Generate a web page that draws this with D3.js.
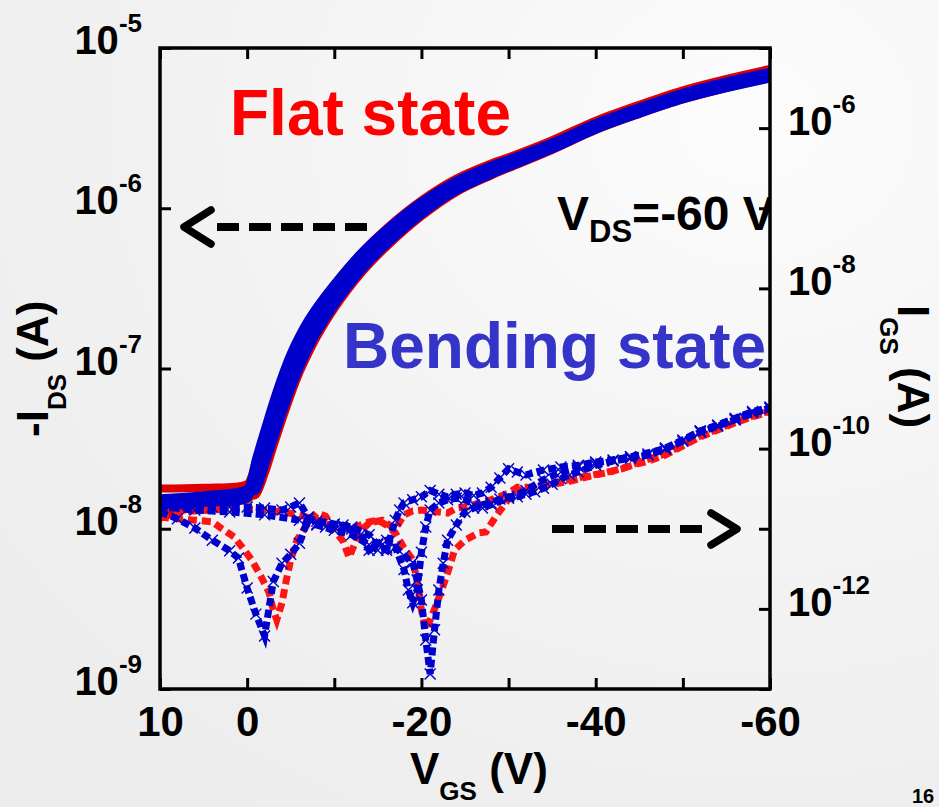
<!DOCTYPE html>
<html><head><meta charset="utf-8">
<script src="https://cdn.jsdelivr.net/npm/d3@7"></script>
<style>body{margin:0;background:#f3f3f3;} svg{display:block;}</style>
</head><body>
<svg id="chart" width="939" height="807"></svg>
<script>
// ---------- DATA ----------
// Transfer curves -I_DS vs V_GS (left axis)
const vgsIds = [10,5,0,-0.5,-1,-2,-3,-4,-5,-6,-7,-8,-10,-13,-16,-20,-24,-28,-30,-35,-40,-45,-50,-55,-60];
const idsFlat1 = [1.78e-8,1.8e-8,1.9e-8,2.12e-8,2.65e-8,4.0e-8,6.0e-8,8.7e-8,1.2e-7,1.57e-7,1.97e-7,2.4e-7,3.35e-7,5.2e-7,7.5e-7,1.12e-6,1.53e-6,1.9e-6,2.08e-6,2.66e-6,3.52e-6,4.43e-6,5.45e-6,6.42e-6,7.4e-6];
const idsFlat2 = [1.17e-8,1.42e-8,1.52e-8,1.6e-8,1.63e-8,2.2e-8,3.25e-8,4.75e-8,6.8e-8,9.4e-8,1.23e-7,1.57e-7,2.36e-7,3.88e-7,5.75e-7,8.9e-7,1.26e-6,1.6e-6,1.78e-6,2.31e-6,3.08e-6,3.88e-6,4.77e-6,5.62e-6,6.5e-6];
const idsBend1 = [1.45e-8,1.51e-8,1.66e-8,1.87e-8,2.16e-8,3.17e-8,4.7e-8,6.8e-8,9.5e-8,1.27e-7,1.62e-7,2.01e-7,2.88e-7,4.57e-7,6.62e-7,1.0e-6,1.38e-6,1.73e-6,1.91e-6,2.45e-6,3.24e-6,4.07e-6,5.01e-6,5.89e-6,6.76e-6];
const idsBend2 = [1.55e-8,1.62e-8,1.78e-8,2.06e-8,2.7e-8,4.12e-8,6.2e-8,9.0e-8,1.24e-7,1.61e-7,2.01e-7,2.43e-7,3.37e-7,5.21e-7,7.41e-7,1.1e-6,1.49e-6,1.85e-6,2.02e-6,2.57e-6,3.4e-6,4.27e-6,5.26e-6,6.18e-6,7.1e-6];
const idsBend3 = [1.36e-8,1.41e-8,1.55e-8,1.7e-8,1.73e-8,2.44e-8,3.56e-8,5.15e-8,7.3e-8,1.0e-7,1.31e-7,1.66e-7,2.46e-7,4.01e-7,5.91e-7,9.1e-7,1.28e-6,1.62e-6,1.8e-6,2.33e-6,3.09e-6,3.88e-6,4.77e-6,5.61e-6,6.44e-6];

// Gate leakage I_GS vs V_GS (right axis)
const igsFlat1V = [10,8,6,4,3,1.5,0.5,-0.5,-1.5,-2.5,-3,-3.4,-4,-4.5,-5,-5.7,-7,-8,-9,-10,-11,-11.7,-12.3,-12.8,-14,-15.5,-17,-18,-19,-20,-22,-23,-24,-25,-26,-28,-30,-31,-33,-35,-37,-39,-41,-43,-45,-48,-50,-52,-54,-56,-58,-60];
const igsFlat1 = [1.4e-11,1.33e-11,1.28e-11,1.22e-11,1.02e-11,7.9e-12,5.75e-12,4.1e-12,2.65e-12,1.62e-12,9.7e-13,7.3e-13,1.19e-12,2.3e-12,4.1e-12,7.2e-12,1.18e-11,1.57e-11,1.44e-11,9.6e-12,7.0e-12,4.4e-12,6.3e-12,8.9e-12,1.18e-11,1.28e-11,9.9e-12,1.49e-11,1.67e-11,1.71e-11,1.62e-11,1.57e-11,1.81e-11,1.87e-11,2.0e-11,2.3e-11,2.8e-11,3.3e-11,3.3e-11,3.7e-11,4.1e-11,4.55e-11,5.0e-11,5.6e-11,6.8e-11,8.6e-11,1.11e-10,1.44e-10,1.76e-10,2.15e-10,2.55e-10,2.95e-10];
const igsFlat2V = [10,8,6,4,2,0,-2,-4,-6,-8,-10,-12,-13,-14,-15,-16,-17,-18,-19,-19.5,-20,-20.5,-21,-21.7,-22.6,-23.2,-23.8,-25,-26.6,-27.4,-28.5,-29.5,-30.7,-33,-35,-37,-39.4,-41.6,-44,-46,-48,-50,-52,-54,-56,-58,-60];
const igsFlat2 = [1.62e-11,1.62e-11,1.67e-11,1.71e-11,1.76e-11,1.76e-11,1.71e-11,1.62e-11,1.49e-11,1.28e-11,1.05e-11,1.02e-11,1.11e-11,1.22e-11,1.28e-11,1.11e-11,8.9e-12,5.75e-12,4.1e-12,2.3e-12,9.7e-13,5.5e-13,7.3e-13,1.12e-12,2.1e-12,3.3e-12,5.4e-12,7.2e-12,8.9e-12,9.1e-12,1.4e-11,2.0e-11,3.0e-11,3.2e-11,3.6e-11,3.9e-11,4.55e-11,5.1e-11,6.1e-11,7.0e-11,8.3e-11,1.08e-10,1.4e-10,1.71e-10,2.1e-10,2.5e-10,2.9e-10];
const igsBend1V = [10,8,6,4,2,1,0,-1,-2,-3,-4,-5,-6,-7,-8,-10,-12,-14,-15,-16,-17,-17.5,-18,-19,-20,-21,-22,-23,-24,-25,-26,-27,-28,-29,-30,-31,-32,-34,-36,-38,-40,-42,-44,-46,-48,-50,-52,-54,-56,-58,-60];
const igsBend1 = [1.62e-11,1.33e-11,1.02e-11,7.2e-12,5.3e-12,4.3e-12,1.82e-12,8.6e-13,4.6e-13,2.2e-12,3.7e-12,4.8e-12,6.6e-12,1.33e-11,1.25e-11,1.15e-11,1.05e-11,8.4e-12,6.3e-12,5.4e-12,1.28e-11,1.71e-11,2.1e-11,2.3e-11,2.5e-11,3.0e-11,2.7e-11,2.5e-11,2.7e-11,2.8e-11,2.6e-11,2.8e-11,3.3e-11,4.3e-11,5.6e-11,5.1e-11,4.7e-11,5.4e-11,5.9e-11,6.2e-11,6.8e-11,7.2e-11,7.9e-11,8.6e-11,1.02e-10,1.28e-10,1.66e-10,1.97e-10,2.4e-10,2.9e-10,3.3e-10];
const igsBend2V = [10,8,6,4,2,0,-2,-4,-5,-6,-7,-8,-9,-10,-11,-12,-13,-14,-15,-16,-17,-18,-19,-19.5,-20,-20.5,-21,-21.5,-22,-22.5,-23,-24,-25,-26,-27,-28,-29,-30,-31,-32,-33,-34,-35,-36,-37,-38,-40,-42,-44,-46,-48,-50,-52,-54,-56,-58,-60];
const igsBend2 = [2.1e-11,2.0e-11,1.9e-11,1.87e-11,1.87e-11,1.87e-11,1.81e-11,1.71e-11,1.87e-11,2.1e-11,1.4e-11,1.15e-11,1.05e-11,1.05e-11,1.11e-11,9.9e-12,8.4e-12,5.4e-12,6.6e-12,7.2e-12,5.9e-12,4.6e-12,3.8e-12,2.3e-12,1.29e-12,4.1e-13,1.54e-13,5.5e-13,1.72e-12,3.7e-12,7.2e-12,1.11e-11,1.62e-11,1.81e-11,2.0e-11,2.1e-11,2.35e-11,2.5e-11,2.5e-11,2.7e-11,2.9e-11,3.2e-11,3.6e-11,4.2e-11,4.7e-11,5.1e-11,6.2e-11,7.0e-11,7.6e-11,8.3e-11,9.9e-11,1.24e-10,1.61e-10,1.91e-10,2.3e-10,2.8e-10,3.2e-10];
const igsBend3V = [10,6,2,-2,-6,-8,-10,-12,-14,-15,-16,-17,-18,-18.5,-19,-19.5,-20,-20.5,-21,-22,-23,-24,-25,-26,-27,-28,-30,-32,-34,-36,-38,-40,-44,-48,-52,-56,-60];
const igsBend3 = [1.9e-11,1.71e-11,1.62e-11,1.49e-11,1.28e-11,1.11e-11,9.6e-12,8.4e-12,6.3e-12,5.4e-12,5.75e-12,5.9e-12,3.1e-12,1.72e-12,1.19e-12,1.72e-12,5.1e-12,1.05e-11,1.71e-11,2.1e-11,2.3e-11,2.4e-11,2.3e-11,2.0e-11,1.81e-11,2.0e-11,2.4e-11,3.0e-11,4.1e-11,5.1e-11,5.9e-11,6.6e-11,7.9e-11,9.9e-11,1.66e-10,2.3e-10,3.2e-10];

// Ticks
const xTickValues = [10,0,-10,-20,-30,-40,-50,-60];
const xTickLabels = [10,0,-20,-40,-60];
const leftTickValues = [1e-9,1e-8,1e-7,1e-6,1e-5];
const rightTickValues = [1e-13,1e-12,1e-11,1e-10,1e-9,1e-8,1e-7,1e-6,1e-5];
const rightTickLabels = [1e-12,1e-10,1e-8,1e-6];

// ---------- CHART ----------
const W = 939, H = 807;
const FONT = "Arial, 'Liberation Sans', Helvetica, sans-serif";
const svg = d3.select("#chart").attr("font-family", FONT);
const defs = svg.append("defs");
const grad = defs.append("radialGradient").attr("id","bg").attr("cx","0.8").attr("cy","0.15").attr("r","1.0");
grad.append("stop").attr("offset","0").attr("stop-color","#fcfcfc");
grad.append("stop").attr("offset","0.6").attr("stop-color","#f2f2f2");
grad.append("stop").attr("offset","1").attr("stop-color","#ededed");
svg.append("rect").attr("width",W).attr("height",H).attr("fill","url(#bg)");

const L = 160, R = 770, T = 48, B = 689;
defs.append("clipPath").attr("id","plotClip").append("rect")
  .attr("x",L).attr("y",T).attr("width",R-L).attr("height",B-T);

const x = d3.scaleLinear().domain([10,-60]).range([L,R]);
const yL = d3.scaleLog().domain([1e-9,1e-5]).range([B,T]);
const yR = d3.scaleLog().domain([1e-13,1e-5]).range([B,T]);

const plot = svg.append("g").attr("clip-path","url(#plotClip)");

// I_DS bands
const lineL = d3.line().x(d=>x(d[0])).y(d=>yL(d[1])).curve(d3.curveCatmullRom.alpha(0.5));
const redIDS = "#e00000", blueIDS = "#0000cc";
[[idsFlat1,redIDS],[idsFlat2,redIDS],[idsBend2,blueIDS],[idsBend3,blueIDS],[idsBend1,blueIDS]].forEach(([arr,c])=>{
  plot.append("path").datum(vgsIds.map((v,i)=>[v,arr[i]]))
    .attr("d",lineL).attr("fill","none").attr("stroke",c)
    .attr("stroke-width",8).attr("stroke-linejoin","round").attr("stroke-linecap","round");
});

// I_GS dashed curves
const lineR = d3.line().x(d=>x(d[0])).y(d=>yR(d[1]));
const redIGS = "#ff1414", blueIGS = "#0000cc";
[[igsFlat1V,igsFlat1],[igsFlat2V,igsFlat2]].forEach(([vv,arr])=>{
  plot.append("path").datum(vv.map((v,i)=>[v,arr[i]]))
    .attr("d",lineR).attr("fill","none").attr("stroke",redIGS)
    .attr("stroke-width",7).attr("stroke-dasharray","9,5");
});
[[igsBend1V,igsBend1],[igsBend2V,igsBend2],[igsBend3V,igsBend3]].forEach(([vv,arr])=>{
  const pts = vv.map((v,i)=>[v,arr[i]]);
  plot.append("path").datum(pts)
    .attr("d",lineR).attr("fill","none").attr("stroke",blueIGS)
    .attr("stroke-width",7).attr("stroke-dasharray","8,4");
  plot.append("g").selectAll("path").data(pts).join("path")
    .attr("transform",d=>`translate(${x(d[0])},${yR(d[1])})`)
    .attr("d","M-5.5,-5.5L5.5,5.5M-5.5,5.5L5.5,-5.5")
    .attr("stroke",blueIGS).attr("stroke-width",1.4).attr("fill","none");
});

// V_DS label (clipped by the frame like the original)
const vds = plot.append("text").attr("x",557).attr("y",230)
  .attr("font-weight","bold").attr("font-size",48).attr("fill","#000");
vds.append("tspan").text("V");
vds.append("tspan").text("DS").attr("font-size",31).attr("dy",12);
vds.append("tspan").text("=-60 V").attr("dy",-12);

// state labels
svg.append("text").attr("x",230).attr("y",135).attr("font-weight","bold")
  .attr("font-size",64).attr("fill","#ff0000").text("Flat state");
svg.append("text").attr("x",343).attr("y",368).attr("font-weight","bold")
  .attr("font-size",64).attr("fill","#3434c8").text("Bending state");

// Arrows
svg.append("path").attr("d","M367,227H216").attr("stroke","#000").attr("stroke-width",8)
  .attr("stroke-dasharray","22,10").attr("fill","none");
svg.append("path").attr("d","M211,210L184,227L211,244").attr("stroke","#000").attr("stroke-width",7.5)
  .attr("fill","none").attr("stroke-linecap","round").attr("stroke-linejoin","round");
svg.append("path").attr("d","M552,529H708").attr("stroke","#000").attr("stroke-width",8)
  .attr("stroke-dasharray","22,10").attr("fill","none");
svg.append("path").attr("d","M711,513L737,529L711,545").attr("stroke","#000").attr("stroke-width",7.5)
  .attr("fill","none").attr("stroke-linecap","round").attr("stroke-linejoin","round");

// Axes (ticks inward)
function styleAxis(g){
  g.select(".domain").remove();
  g.selectAll(".tick line").attr("stroke","#000").attr("stroke-width",3);
}
const gB = svg.append("g").attr("transform",`translate(0,${B})`)
  .call(d3.axisBottom(x).tickValues(xTickValues).tickSize(-11).tickSizeOuter(0).tickPadding(17)
    .tickFormat(d => xTickLabels.includes(d) ? String(d) : ""));
styleAxis(gB);
gB.selectAll(".tick text").attr("font-family",FONT).attr("font-size",42).attr("font-weight","bold").attr("fill","#000");
const gT = svg.append("g").attr("transform",`translate(0,${T})`)
  .call(d3.axisTop(x).tickValues(xTickValues).tickSize(-11).tickSizeOuter(0).tickFormat(""));
styleAxis(gT);
const gL = svg.append("g").attr("transform",`translate(${L},0)`)
  .call(d3.axisLeft(yL).tickValues(leftTickValues).tickSize(-11).tickSizeOuter(0).tickFormat(""));
styleAxis(gL);
const gR = svg.append("g").attr("transform",`translate(${R},0)`)
  .call(d3.axisRight(yR).tickValues(rightTickValues).tickSize(-11).tickSizeOuter(0).tickFormat(""));
styleAxis(gR);

// frame
svg.append("rect").attr("x",L).attr("y",T).attr("width",R-L).attr("height",B-T)
  .attr("fill","none").attr("stroke","#000").attr("stroke-width",3.5);

// power-of-ten labels
leftTickValues.forEach(v=>{
  const t = svg.append("text").attr("x",142).attr("y",yL(v)+6).attr("text-anchor","end")
    .attr("font-weight","bold").attr("fill","#000");
  t.append("tspan").attr("font-size",40).text("10");
  t.append("tspan").attr("font-size",26).attr("dy",-22).text(String(Math.round(Math.log10(v))));
});
rightTickLabels.forEach(v=>{
  const t = svg.append("text").attr("x",788).attr("y",yR(v)+7)
    .attr("font-weight","bold").attr("fill","#000");
  t.append("tspan").attr("font-size",40).text("10");
  t.append("tspan").attr("font-size",26).attr("dy",-22).text(String(Math.round(Math.log10(v))));
});

// axis titles
const xt = svg.append("text").attr("x",410).attr("y",784).attr("font-weight","bold").attr("font-size",44);
xt.append("tspan").text("V");
xt.append("tspan").text("GS").attr("font-size",26).attr("dy",16);
xt.append("tspan").text(" (V)").attr("dy",-16);

const lt = svg.append("text").attr("transform","translate(48,437) rotate(-90)")
  .attr("font-weight","bold").attr("font-size",44);
lt.append("tspan").text("-I");
lt.append("tspan").text("DS").attr("font-size",26).attr("dy",18);
lt.append("tspan").text(" (A)").attr("dy",-18);

const rt = svg.append("text").attr("transform","translate(898,305) rotate(90)")
  .attr("font-weight","bold").attr("font-size",44);
rt.append("tspan").text("I");
rt.append("tspan").text("GS").attr("font-size",26).attr("dy",18);
rt.append("tspan").text(" (A)").attr("dy",-18);

// page number
svg.append("text").attr("x",912).attr("y",803).attr("font-weight","bold").attr("font-size",20).text("16");
</script>
</body></html>
